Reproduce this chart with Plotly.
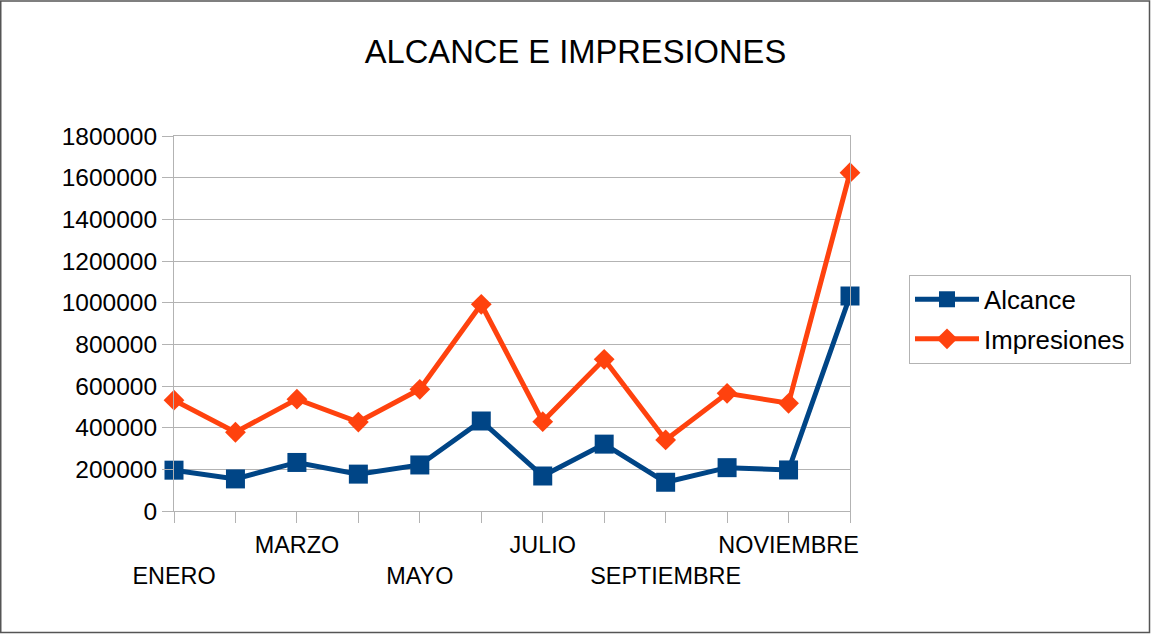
import plotly.graph_objects as go

months = ["ENERO", "FEBRERO", "MARZO", "ABRIL", "MAYO", "JUNIO",
          "JULIO", "AGOSTO", "SEPTIEMBRE", "OCTUBRE", "NOVIEMBRE", "DICIEMBRE"]
alcance = [196000, 154000, 233000, 177000, 221000, 432000,
           168000, 321000, 138000, 208000, 197000, 1032000]
impresiones = [532000, 378000, 537000, 427000, 584000, 992000,
               429000, 728000, 341000, 565000, 517000, 1624000]
y_ticks = [0, 200000, 400000, 600000, 800000, 1000000, 1200000, 1400000, 1600000, 1800000]

# Show only odd months, staggered in two rows (like the original)
tick_text = []
for i, m in enumerate(months):
    if i % 2 == 1:
        tick_text.append("")
    elif (i // 2) % 2 == 0:
        tick_text.append("<br>" + m)
    else:
        tick_text.append(m)

W, H = 1151, 636
L, R, T, B = 174, 301, 136, 125

BLUE = "#004586"
ORANGE = "#ff420e"
FONT = "Liberation Sans, Arial, sans-serif"

fig = go.Figure()
fig.add_trace(go.Scatter(
    x=list(range(len(months))), y=alcance, name="Alcance",
    mode="lines+markers", legendgroup="a",
    line=dict(color=BLUE, width=5),
    marker=dict(symbol="square", size=19, color=BLUE),
    cliponaxis=False,
))
fig.add_trace(go.Scatter(
    x=list(range(len(months))), y=impresiones, name="Impresiones",
    mode="lines+markers", legendgroup="b",
    line=dict(color=ORANGE, width=5),
    marker=dict(symbol="diamond", size=16, color=ORANGE),
    cliponaxis=False,
))

pw = W - L - R
ph = H - T - B
x0 = (0.75 - L) / pw
x1 = (1149.5 - L) / pw
y0 = (H - B - 632.5) / ph
y1 = (H - B - 1) / ph

fig.update_layout(
    width=W, height=H,
    margin=dict(l=L, r=R, t=T, b=B, autoexpand=False),
    paper_bgcolor="white", plot_bgcolor="white",
    font=dict(family=FONT, size=23, color="black"),
    title=dict(text="ALCANCE E IMPRESIONES", x=0.5, xref="container",
               y=1 - 52 / H, yref="container", yanchor="middle", xanchor="center",
               font=dict(size=32.7, family=FONT, color="black")),
    xaxis=dict(
        tickmode="array", tickvals=list(range(len(months))), ticktext=tick_text,
        range=[0, len(months) - 1],
        showgrid=False, showline=True, linecolor="#b3b3b3", linewidth=1, mirror=True,
        ticks="outside", ticklen=11, tickcolor="#b3b3b3", tickwidth=1,
        tickangle=0, zeroline=False, ticklabelstandoff=2,
        tickfont=dict(size=23.4, family=FONT, color="black"),
    ),
    yaxis=dict(
        range=[0, 1800000], tickmode="array", tickvals=y_ticks,
        ticktext=[str(v) for v in y_ticks],
        showgrid=True, gridcolor="#b3b3b3", gridwidth=1,
        showline=True, linecolor="#b3b3b3", linewidth=1, mirror=True,
        ticks="outside", ticklen=11, tickcolor="#b3b3b3", tickwidth=1,
        zeroline=False,
        tickfont=dict(size=24.5, family=FONT, color="black"),
    ),
    legend=dict(
        xref="container", yref="container",
        x=909 / W, y=1 - 275 / H, xanchor="left", yanchor="top",
        bordercolor="#b3b3b3", borderwidth=1, bgcolor="white",
        font=dict(size=25.8, family=FONT, color="black"),
        itemwidth=64, traceorder="grouped", tracegroupgap=3,
    ),
    shapes=[dict(type="rect", xref="paper", yref="paper",
                 x0=x0, x1=x1, y0=y0, y1=y1,
                 line=dict(color="#555555", width=1.5), layer="below")],
)

fig.write_html("out.html", config={"displayModeBar": False},
               post_script="document.body.style.margin='0';")
